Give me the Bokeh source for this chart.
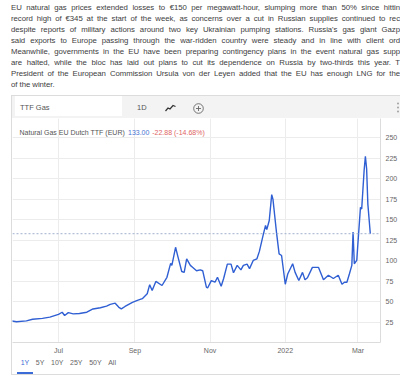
import pandas as pd
from bokeh.plotting import figure
from bokeh.models import ColumnDataSource, Range1d, FixedTicker, Span, Label, Div
from bokeh.layouts import column, row
from bokeh.embed import file_html
from bokeh.resources import INLINE

# ---------------- data ----------------
dates = [
    "2021-05-24", "2021-05-28", "2021-06-05", "2021-06-10", "2021-06-18", "2021-06-24",
    "2021-07-01", "2021-07-04", "2021-07-06", "2021-07-09", "2021-07-13", "2021-07-18",
    "2021-07-24", "2021-07-29", "2021-08-04", "2021-08-09", "2021-08-12", "2021-08-16",
    "2021-08-19", "2021-08-21", "2021-08-24", "2021-08-30", "2021-09-03", "2021-09-07",
    "2021-09-11", "2021-09-13", "2021-09-15", "2021-09-18", "2021-09-23", "2021-09-27",
    "2021-09-30", "2021-10-01", "2021-10-04", "2021-10-06", "2021-10-09", "2021-10-11",
    "2021-10-13", "2021-10-16", "2021-10-18", "2021-10-21", "2021-10-24", "2021-10-26",
    "2021-10-29", "2021-10-30", "2021-11-02", "2021-11-05", "2021-11-07", "2021-11-10",
    "2021-11-12", "2021-11-15", "2021-11-18", "2021-11-20", "2021-11-23", "2021-11-26",
    "2021-11-28", "2021-12-01", "2021-12-03", "2021-12-06", "2021-12-09", "2021-12-11",
    "2021-12-14", "2021-12-16", "2021-12-17", "2021-12-19", "2021-12-21", "2021-12-22",
    "2021-12-25", "2021-12-27", "2021-12-29", "2022-01-01", "2022-01-03", "2022-01-07",
    "2022-01-09", "2022-01-12", "2022-01-15", "2022-01-17", "2022-01-19", "2022-01-23",
    "2022-01-26", "2022-01-28", "2022-02-01", "2022-02-05", "2022-02-09", "2022-02-13",
    "2022-02-16", "2022-02-18", "2022-02-20", "2022-02-22", "2022-02-24", "2022-02-25",
    "2022-02-26", "2022-02-28", "2022-03-01", "2022-03-03", "2022-03-04", "2022-03-06",
    "2022-03-07", "2022-03-08", "2022-03-09", "2022-03-11",
]
values = [
    27, 26, 27, 29, 30, 31.5,
    35, 37.5, 33.5, 37, 35.5, 36,
    37.5, 41.5, 43, 45, 47, 48.5,
    43.5, 41.5, 44.5, 49.5, 52, 54,
    60, 71, 64, 75, 70, 80,
    97, 94.5, 116.5, 104.5, 87, 86,
    102.5, 94.5, 92, 88, 89, 88,
    68, 67, 76, 74, 80, 69,
    78.5, 96, 96, 85.5, 94.5, 89,
    94.5, 96, 90.5, 100.5, 102.5, 111.5,
    131, 143, 138, 149, 180.5, 175,
    133, 108.5, 106.5, 71.5, 84, 96.5,
    86, 76, 86, 77, 79.5, 92,
    92, 92, 77, 82.5, 78.5, 82.5,
    71.5, 74, 74, 84, 94.5, 135,
    96.5, 100.5, 122.5, 165, 163, 210.5,
    227, 212, 169, 133,
]
x_tick_dates = ["2021-07-01", "2021-09-01", "2021-11-01", "2022-01-01", "2022-03-01"]
x_tick_labels = ["Jul", "Sep", "Nov", "2022", "Mar"]
y_ticks = [25, 50, 75, 100, 125, 150, 175, 200, 225, 250]

instrument = "TTF Gas"
interval = "1D"
series_name = "Natural Gas EU Dutch TTF (EUR)"
last_change = "-22.88 (-14.68%)"
range_buttons = ["1Y", "5Y", "10Y", "25Y", "50Y", "All"]

paragraph_lines = [
    "EU natural gas prices extended losses to €150 per megawatt-hour, slumping more than 50% since hittin",
    "record high of €345 at the start of the week, as concerns over a cut in Russian supplies continued to rec",
    "despite reports of military actions around two key Ukrainian pumping stations. Russia's gas giant Gazp",
    "said exports to Europe passing through the war-ridden country were steady and in line with client ord",
    "Meanwhile, governments in the EU have been preparing contingency plans in the event natural gas supp",
    "are halted, while the bloc has laid out plans to cut its dependence on Russia by two-thirds this year. T",
    "President of the European Commission Ursula von der Leyen added that the EU has enough LNG for the",
    "of the winter.",
]

FONT = "'Liberation Sans', Arial, sans-serif"

# ---------------- paragraph ----------------
lines_html = []
for i, ln in enumerate(paragraph_lines):
    last = i == len(paragraph_lines) - 1
    align = "text-align:left;" if last else "text-align:justify;text-align-last:justify;"
    lines_html.append(
        f'<div style="height:11px;overflow:hidden;{align}">{ln}</div>'
    )
text_html = (
    f'<div style="box-sizing:border-box;padding:1.5px 0 0 11px;width:400px;height:95px;overflow:hidden;'
    f'font-family:{FONT};font-size:7.8px;letter-spacing:-0.05px;line-height:11px;color:#404040;">'
    f'<div style="width:389px;">' + "".join(lines_html) + "</div></div>"
)
text_div = Div(text=text_html, width=400, height=95, margin=(0, 0, 0, 0))

# ---------------- header ----------------
header_html = f"""
<div style="position:relative;width:388px;height:23px;box-sizing:border-box;background:#f3f3f3;
border-top:1px solid #dcdcdc;font-family:{FONT};overflow:hidden;">
  <div style="position:absolute;left:3px;top:0px;width:107px;height:20px;background:#ffffff;"></div>
  <div style="position:absolute;left:8px;top:2px;height:20px;line-height:20px;font-size:7.5px;color:#555;">{instrument}</div>
  <div style="position:absolute;left:125px;top:2px;height:20px;line-height:20px;font-size:7.5px;color:#555;">{interval}</div>
  <svg style="position:absolute;left:153px;top:8px" width="11" height="8" viewBox="0 0 11 8">
    <polyline points="0.5,7 3,4 5,5 8,1.5 10.5,2.5" fill="none" stroke="#333" stroke-width="1.2"/>
  </svg>
  <svg style="position:absolute;left:181px;top:7px" width="11" height="11" viewBox="0 0 11 11">
    <circle cx="5.5" cy="5.5" r="4.8" fill="none" stroke="#666" stroke-width="0.9"/>
    <line x1="5.5" y1="3" x2="5.5" y2="8" stroke="#666" stroke-width="0.9"/>
    <line x1="3" y1="5.5" x2="8" y2="5.5" stroke="#666" stroke-width="0.9"/>
  </svg>
  <svg style="position:absolute;left:384px;top:5px" width="4" height="13" viewBox="0 0 4 13">
    <circle cx="2" cy="2.5" r="0.9" fill="#999"/>
    <circle cx="2" cy="6.5" r="0.9" fill="#999"/>
    <circle cx="2" cy="10.5" r="0.9" fill="#999"/>
  </svg>
</div>
"""
header_div = Div(text=header_html, width=388, height=23, margin=(0, 0, 0, 0))

# ---------------- chart ----------------
src = ColumnDataSource(dict(date=pd.to_datetime(dates), value=values))

x_start = pd.Timestamp("2021-05-24 16:48")
x_end = pd.Timestamp("2022-03-19 06:15")
y_start, y_end = 0.7, 273.1

p = figure(
    width=388, height=238,
    x_axis_type="datetime", y_axis_location="right",
    x_range=Range1d(x_start, x_end), y_range=Range1d(y_start, y_end),
    output_backend="svg", toolbar_location=None,
    min_border_left=0, min_border_top=0, min_border_right=20, min_border_bottom=14,
)
p.background_fill_color = "white"
p.border_fill_color = "white"
p.outline_line_color = None

tick_ms = [float(pd.Timestamp(d).value // 10**6) for d in x_tick_dates]
xt = FixedTicker(ticks=tick_ms)
p.xaxis.ticker = xt
p.xgrid.ticker = xt
p.xaxis.major_label_overrides = {t: lab for t, lab in zip(tick_ms, x_tick_labels)}
yt = FixedTicker(ticks=y_ticks)
p.yaxis.ticker = yt
p.ygrid.ticker = yt

for ax in (p.xaxis[0], p.yaxis[0]):
    ax.axis_line_color = "#dcdcdc"
    ax.major_tick_line_color = None
    ax.minor_tick_line_color = None
    ax.major_tick_out = 0
    ax.major_tick_in = 0
    ax.major_label_text_font = "Liberation Sans"
    ax.major_label_text_font_size = "7px"
    ax.major_label_text_color = "#666666"
p.xaxis.major_label_standoff = 4
p.yaxis.major_label_standoff = 5

p.xgrid.grid_line_color = "#ececec"
p.ygrid.grid_line_color = "#ececec"

p.line(x="date", y="value", source=src, line_color="#2f5fd3", line_width=1.4)

p.add_layout(Span(location=values[-1], dimension="width", line_color="#9fb0d0",
                  line_dash="2 2", line_width=1))

x_start_ms = float(x_start.value // 10**6)
x_end_ms = float(x_end.value // 10**6)

for txt, off, col in [
    (series_name, 7, "#555555"),
    (f"{values[-1]:.2f}", 115.5, "#4a72d2"),
    (last_change, 139.7, "#e06464"),
]:
    p.add_layout(Label(x=x_start_ms, y=y_end, x_offset=off, y_offset=-14, text=txt,
                       text_font="Liberation Sans", text_font_size="7px",
                       text_color=col, text_baseline="middle", text_align="left"))

# last-price badge on the value axis (runs off the right edge, as in the reference)
p.add_layout(Label(x=x_end_ms, y=values[-1], x_offset=2, text=f"{values[-1]:.2f}",
                   text_font="Liberation Sans", text_font_size="7.5px",
                   text_color="white", text_baseline="middle", text_align="left",
                   background_fill_color="#2962ff", padding=2))

p.add_layout(Label(x=x_end_ms, y=y_start, x_offset=14, y_offset=-7, text="⚙",
                   text_font="DejaVu Sans", text_font_size="8px",
                   text_color="#bbbbbb", text_baseline="middle", text_align="center"))

# ---------------- footer ----------------
btns = []
for i, b in enumerate(range_buttons):
    colr = "#3b6bd6" if i == 0 else "#666"
    btns.append(f'<span style="display:inline-block;margin-right:6.6px;color:{colr};">{b}</span>')
footer_html = f"""
<div style="position:relative;width:388px;height:19px;box-sizing:border-box;
border-bottom:1px solid #dcdcdc;font-family:{FONT};font-size:7px;">
  <div style="position:absolute;left:8.7px;top:1.7px;line-height:10px;white-space:nowrap;">{''.join(btns)}</div>
  <div style="position:absolute;left:5.3px;top:16px;width:16px;height:2px;background:#3b6bd6;"></div>
</div>
"""
footer_div = Div(text=footer_html, width=388, height=19, margin=(0, 0, 0, 0))

vline_div = Div(text='<div style="width:1px;height:280px;background:#dcdcdc;"></div>',
                width=1, height=280, margin=(0, 0, 0, 11))

widget = row(vline_div, column(header_div, p, footer_div, spacing=0), spacing=0)
root = column(text_div, widget, spacing=0)

open("out.html", "w", encoding="utf-8").write(file_html(root, INLINE))
